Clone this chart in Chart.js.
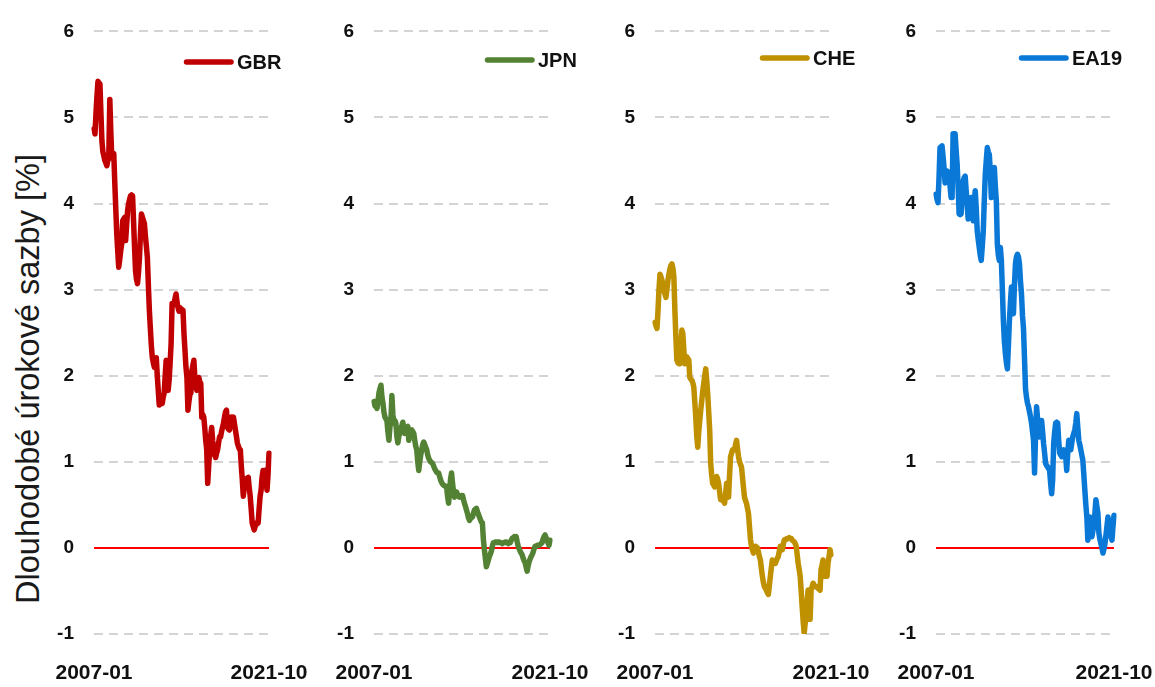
<!DOCTYPE html>
<html>
<head>
<meta charset="utf-8">
<script src="https://cdn.jsdelivr.net/npm/chart.js@4.4.1/dist/chart.umd.min.js"></script>
<style>
html,body{margin:0;padding:0;background:#fff;}
body{width:1155px;height:687px;position:relative;overflow:hidden;font-family:'Liberation Sans',Arial,sans-serif;}
canvas{position:absolute;top:0;}
#ytitle{position:absolute;left:28px;top:379px;transform:translate(-50%,-50%) rotate(-90deg);white-space:nowrap;font-size:32.5px;color:#1a1a1a;font-family:'Liberation Sans',Arial,sans-serif;}
</style>
</head>
<body>
<div id="ytitle">Dlouhodobé úrokové sazby [%]</div>
<canvas id="c0" width="320" height="687"></canvas>
<canvas id="c1" width="320" height="687"></canvas>
<canvas id="c2" width="320" height="687"></canvas>
<canvas id="c3" width="320" height="687"></canvas>
<script>
// ---------- DATA ----------
const startYear = 2007;
const monthCount = 178; // 2007-01 .. 2021-10
const months = [];
for (let k = 0; k < monthCount; k++) {
  months.push((startYear + Math.floor(k / 12)) + '-' + String(k % 12 + 1).padStart(2, '0'));
}
const countries = ['GBR', 'JPN', 'CHE', 'EA19'];
const yMin = -1, yMax = 6;

const gbr = [
  4.87,4.81,5.05,5.25,5.42,5.40,5.39,5.05,4.73,4.60,4.55,4.50,
  4.47,4.44,4.50,4.58,5.21,4.84,4.53,4.55,4.58,4.25,3.95,3.65,
  3.45,3.26,3.35,3.45,3.53,3.80,3.82,3.84,3.57,3.75,3.92,4.00,
  4.05,4.09,4.10,4.09,3.80,3.50,3.22,3.12,3.07,3.20,3.37,3.65,
  3.88,3.84,3.80,3.77,3.62,3.50,3.37,3.05,2.76,2.55,2.35,2.21,
  2.15,2.10,2.15,2.21,2.00,1.83,1.66,1.68,1.70,1.68,1.75,1.80,
  2.00,2.18,1.95,1.83,1.95,2.15,2.38,2.84,2.82,2.84,2.90,2.95,
  2.85,2.79,2.75,2.79,2.77,2.75,2.76,2.49,2.30,2.10,1.98,1.60,
  1.70,1.78,1.80,2.06,2.12,2.18,1.98,1.90,1.83,1.92,1.98,1.93,
  1.91,1.52,1.55,1.52,1.40,1.25,1.14,0.75,0.95,1.14,1.30,1.40,
  1.25,1.14,1.08,1.05,1.10,1.14,1.22,1.29,1.29,1.35,1.40,1.45,
  1.52,1.58,1.60,1.40,1.38,1.37,1.45,1.52,1.50,1.52,1.45,1.37,
  1.30,1.22,1.18,1.15,1.14,0.95,0.79,0.60,0.70,0.79,0.80,0.81,
  0.82,0.70,0.60,0.45,0.29,0.25,0.21,0.25,0.29,0.28,0.29,0.45,
  0.60,0.67,0.82,0.90,0.88,0.90,0.78,0.67,0.85,1.10
];
const jpn = [
  1.70,1.65,1.68,1.62,1.70,1.80,1.85,1.89,1.75,1.68,1.58,1.52,
  1.50,1.48,1.35,1.25,1.40,1.48,1.77,1.55,1.45,1.48,1.45,1.30,
  1.22,1.30,1.33,1.37,1.42,1.46,1.38,1.33,1.38,1.40,1.41,1.25,
  1.32,1.36,1.37,1.35,1.33,1.25,1.18,1.14,1.00,0.90,1.00,1.08,
  1.14,1.20,1.23,1.20,1.17,1.14,1.08,1.04,1.02,1.00,0.99,0.98,
  0.95,0.92,0.90,0.88,0.87,0.87,0.83,0.79,0.76,0.74,0.73,0.72,
  0.72,0.71,0.60,0.52,0.65,0.80,0.87,0.75,0.65,0.59,0.62,0.65,
  0.62,0.60,0.59,0.60,0.61,0.61,0.56,0.52,0.48,0.44,0.40,0.35,
  0.32,0.34,0.35,0.36,0.40,0.44,0.45,0.46,0.42,0.39,0.36,0.33,
  0.30,0.29,0.10,-0.02,-0.12,-0.22,-0.18,-0.14,-0.10,-0.07,-0.04,0.02,
  0.06,0.06,0.07,0.07,0.06,0.07,0.07,0.06,0.06,0.05,0.06,0.06,
  0.07,0.07,0.06,0.05,0.06,0.06,0.09,0.11,0.12,0.13,0.12,0.13,
  0.07,0.02,-0.01,-0.04,-0.06,-0.08,-0.12,-0.15,-0.17,-0.22,-0.27,-0.21,
  -0.16,-0.13,-0.10,-0.08,-0.05,-0.01,0.02,0.02,0.03,0.03,0.03,0.04,
  0.05,0.06,0.10,0.13,0.15,0.12,0.09,0.06,0.03,0.09
];
const che = [
  2.62,2.58,2.55,2.75,3.00,3.18,3.15,3.11,3.05,2.99,2.95,2.91,
  3.00,3.11,3.18,3.24,3.28,3.30,3.25,3.14,2.76,2.45,2.18,2.15,
  2.14,2.14,2.35,2.53,2.49,2.30,2.14,2.18,2.22,2.20,2.18,1.98,
  1.96,1.95,1.92,1.87,1.70,1.52,1.30,1.17,1.35,1.48,1.60,1.71,
  1.82,1.91,2.00,2.08,1.95,1.79,1.58,1.37,0.98,0.85,0.75,0.73,
  0.71,0.78,0.83,0.80,0.75,0.65,0.56,0.56,0.56,0.54,0.52,0.63,
  0.75,0.68,0.59,0.85,1.06,1.10,1.14,1.14,1.14,1.20,1.25,1.15,
  1.06,1.00,0.97,0.94,0.82,0.70,0.59,0.55,0.52,0.46,0.40,0.25,
  0.10,0.02,-0.02,-0.06,-0.02,0.02,0.01,0.00,-0.05,-0.10,-0.14,-0.24,
  -0.33,-0.40,-0.45,-0.47,-0.49,-0.52,-0.54,-0.44,-0.33,-0.23,-0.14,-0.16,
  -0.17,-0.18,-0.15,-0.12,-0.10,-0.04,0.02,0.00,-0.02,0.04,0.09,0.10,
  0.10,0.11,0.11,0.12,0.11,0.11,0.09,0.08,0.07,0.05,0.02,-0.08,
  -0.18,-0.25,-0.33,-0.50,-0.68,-0.85,-0.99,-0.88,-0.76,-0.62,-0.49,-0.66,
  -0.83,-0.49,-0.45,-0.41,-0.43,-0.45,-0.45,-0.45,-0.47,-0.48,-0.49,-0.25,
  -0.20,-0.14,-0.24,-0.33,-0.33,-0.33,-0.18,-0.10,-0.02,-0.08
];
const ea19 = [
  4.11,4.05,4.01,4.30,4.65,4.66,4.67,4.55,4.42,4.24,4.30,4.38,
  4.36,4.34,4.20,4.07,4.07,4.81,4.80,4.81,4.62,4.46,4.19,3.88,
  3.87,3.88,4.10,4.26,4.30,4.32,4.15,3.99,3.82,3.95,4.02,4.07,
  3.95,3.80,4.00,4.15,3.95,3.68,3.58,3.49,3.40,3.34,3.50,3.68,
  4.03,4.34,4.50,4.65,4.60,4.57,4.38,4.07,4.15,4.26,4.42,4.20,
  4.03,3.53,3.40,3.34,3.49,3.34,3.00,2.64,2.40,2.26,2.15,2.08,
  2.35,2.64,2.85,3.03,2.85,2.72,3.05,3.30,3.38,3.41,3.38,3.30,
  3.10,2.95,2.70,2.55,2.20,1.85,1.75,1.68,1.64,1.58,1.52,1.45,
  1.35,1.25,0.87,1.30,1.64,1.50,1.33,1.29,1.40,1.48,1.35,1.21,
  1.10,0.98,0.96,0.94,0.92,0.90,0.75,0.63,0.79,1.21,1.35,1.45,
  1.46,1.45,1.25,1.10,1.08,1.06,1.10,1.14,1.10,1.06,0.90,1.10,
  1.25,1.20,1.14,1.22,1.29,1.33,1.37,1.45,1.56,1.40,1.25,1.20,
  1.14,1.08,1.02,0.85,0.67,0.50,0.36,0.09,0.22,0.36,0.25,0.13,
  0.20,0.25,0.40,0.56,0.48,0.40,0.17,0.10,0.05,0.00,-0.06,-0.01,
  0.05,0.15,0.25,0.36,0.26,0.17,0.13,0.09,0.25,0.38
];
const seriesValues = [gbr, jpn, che, ea19];

// ---------- STYLE / LAYOUT ----------
const colors = ['#C00000', '#548235', '#BF9000', '#0A78D6'];
const plotLeft = [94, 374, 655, 936];
const plotWidth = [175, 176, 176, 178];
const legendOffsetX = [90, 111, 105, 83];
const legendY = [62, 60, 58, 58];
const canvasW = 320, axisW = 94;
const FONT = "'Liberation Sans', Arial, sans-serif";

const panelLegend = {
  id: 'panelLegend',
  afterDatasetsDraw(chart, args, opts) {
    const ds = chart.data.datasets[0];
    const ctx = chart.ctx;
    const x = chart.chartArea.left + opts.offsetX;
    const y = opts.y;
    ctx.save();
    ctx.strokeStyle = ds.borderColor;
    ctx.lineWidth = 5.5;
    ctx.lineCap = 'round';
    ctx.beginPath();
    ctx.moveTo(x + 2.5, y);
    ctx.lineTo(x + 47, y);
    ctx.stroke();
    ctx.fillStyle = '#111';
    ctx.font = 'bold 20px ' + FONT;
    ctx.textBaseline = 'middle';
    ctx.textAlign = 'left';
    ctx.fillText(ds.label, x + 53, y + 1);
    ctx.restore();
  }
};

countries.forEach((name, p) => {
  const cv = document.getElementById('c' + p);
  cv.style.left = (plotLeft[p] - axisW) + 'px';
  new Chart(cv, {
    type: 'line',
    data: {
      labels: months,
      datasets: [{
        label: name,
        data: seriesValues[p],
        borderColor: colors[p],
        backgroundColor: colors[p],
        borderWidth: 5.5,
        pointRadius: 0,
        tension: 0,
        fill: false,
        borderJoinStyle: 'round',
        borderCapStyle: 'round'
      }]
    },
    options: {
      responsive: false,
      animation: false,
      events: [],
      layout: { padding: { top: 30, right: canvasW - axisW - plotWidth[p], bottom: 0, left: 0 } },
      plugins: {
        legend: { display: false },
        tooltip: { enabled: false },
        panelLegend: { offsetX: legendOffsetX[p], y: legendY[p] }
      },
      scales: {
        x: {
          type: 'category',
          offset: false,
          grid: { display: false, drawTicks: true, tickLength: 27 },
          border: { display: false },
          ticks: {
            autoSkip: false, maxRotation: 0, minRotation: 0, padding: 0,
            color: '#111', font: { family: FONT, size: 21, weight: 'bold' },
            callback: (v, i) => (i === 0 || i === monthCount - 1) ? months[i] : ''
          },
          afterFit: s => { s.height = 53; }
        },
        y: {
          min: yMin, max: yMax,
          ticks: { stepSize: 1, padding: 20, color: '#111', font: { family: FONT, size: 19, weight: 'bold' } },
          grid: {
            drawTicks: false,
            lineWidth: 2,
            color: c => (c.tick && c.tick.value === 0) ? '#FF0000' : '#D4D4D4'
          },
          border: { display: false, dash: c => (c.tick && c.tick.value === 0) ? [] : [9, 6] },
          afterFit: s => { s.width = axisW; }
        }
      }
    },
    plugins: [panelLegend]
  });
});
</script>
</body>
</html>
